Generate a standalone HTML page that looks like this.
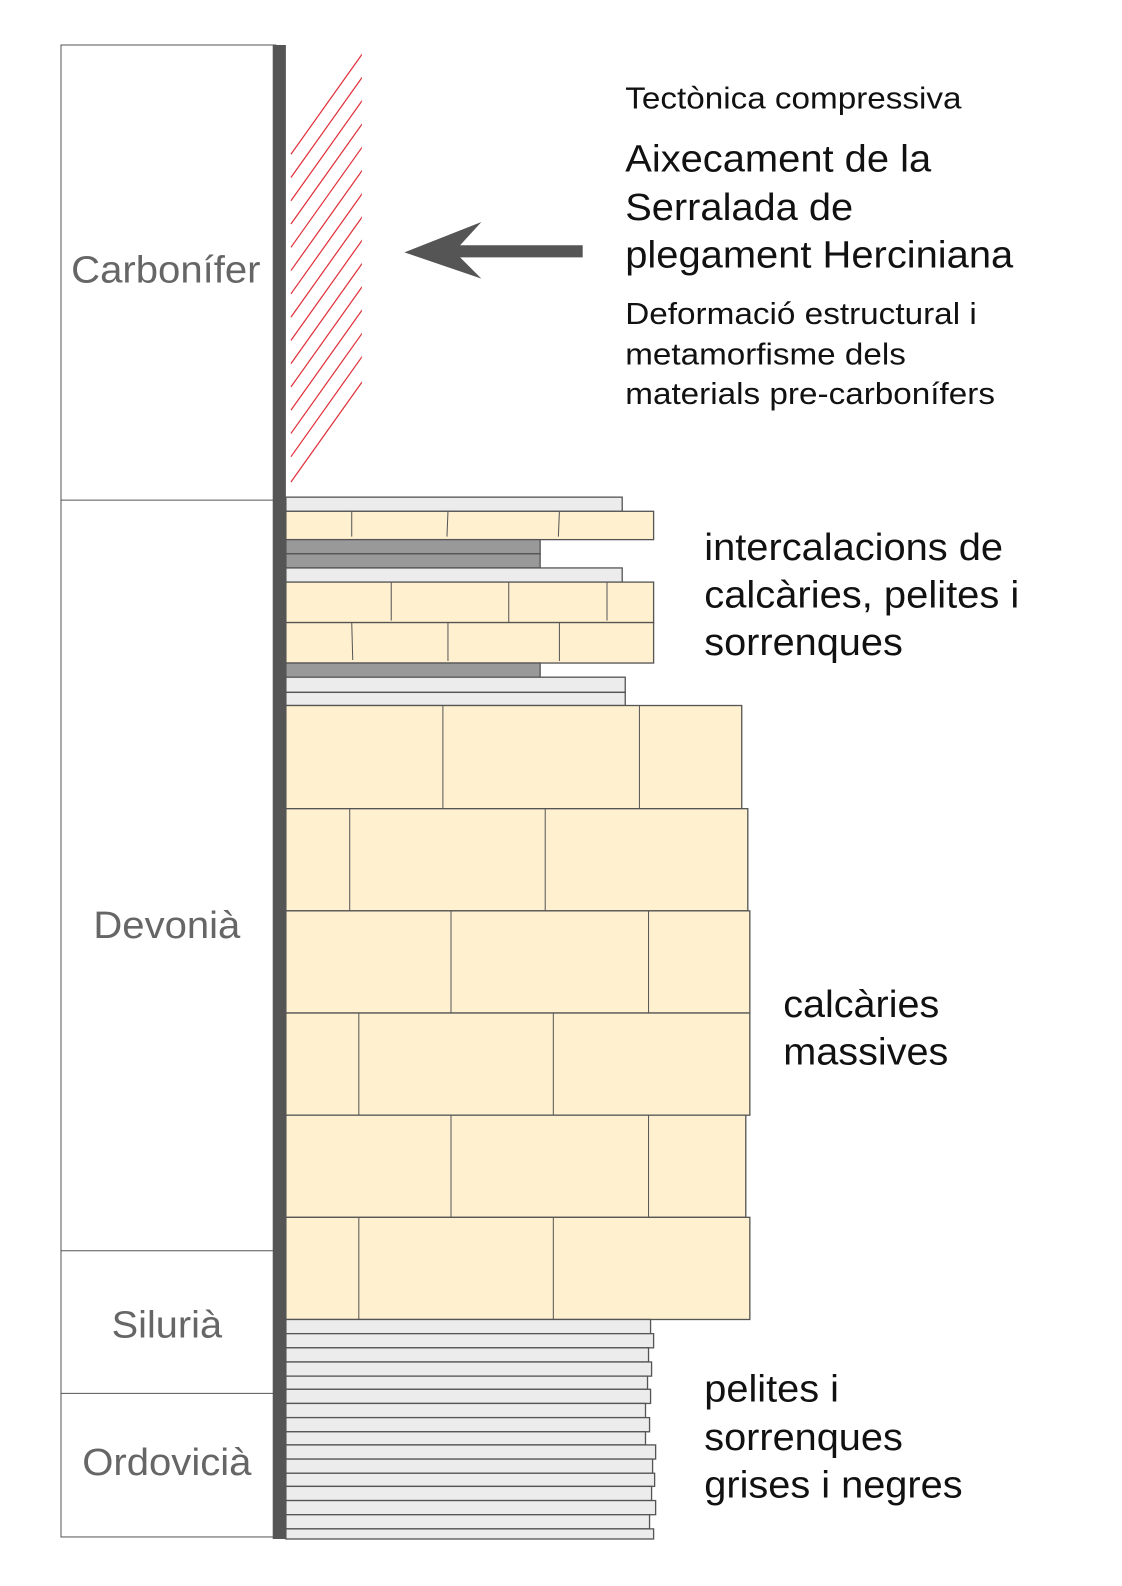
<!DOCTYPE html>
<html><head><meta charset="utf-8"><style>
html,body{margin:0;padding:0;background:#fff;overflow:hidden;width:1122px;height:1586px}
svg{display:block}
svg text{font-family:"Liberation Sans",Arial,sans-serif}
</style></head><body>
<svg width="1122" height="1586" viewBox="0 0 1122 1586" xmlns="http://www.w3.org/2000/svg">
<defs><clipPath id="c"><rect x="285" y="50" width="73" height="430"/></clipPath></defs>
<g transform="translate(61,45) scale(1.013,1.0115) translate(-61,-45)">
<rect x="61" y="45" width="212" height="1475" fill="#fff" stroke="#555" stroke-width="1"/>
<line x1="61" y1="495" x2="273" y2="495" stroke="#555"/>
<line x1="61" y1="1237" x2="273" y2="1237" stroke="#555"/>
<line x1="61" y1="1378" x2="273" y2="1378" stroke="#555"/>
<g fill="#666" font-size="38">
<text x="71" y="280" textLength="187" lengthAdjust="spacingAndGlyphs">Carbonífer</text>
<text x="93" y="928" textLength="145" lengthAdjust="spacingAndGlyphs">Devonià</text>
<text x="111" y="1323" textLength="109" lengthAdjust="spacingAndGlyphs">Silurià</text>
<text x="82" y="1459" textLength="167" lengthAdjust="spacingAndGlyphs">Ordovicià</text>
</g>
<g clip-path="url(#c)" stroke="#e0303a" stroke-width="1.2">
<line x1="288" y1="153" x2="359" y2="53"/>
<line x1="288" y1="176" x2="359" y2="76"/>
<line x1="288" y1="199" x2="359" y2="99"/>
<line x1="288" y1="222" x2="359" y2="122"/>
<line x1="288" y1="245" x2="359" y2="145"/>
<line x1="288" y1="268" x2="359" y2="168"/>
<line x1="288" y1="291" x2="359" y2="191"/>
<line x1="288" y1="314" x2="359" y2="214"/>
<line x1="288" y1="337" x2="359" y2="237"/>
<line x1="288" y1="360" x2="359" y2="260"/>
<line x1="288" y1="383" x2="359" y2="283"/>
<line x1="288" y1="406" x2="359" y2="306"/>
<line x1="288" y1="429" x2="359" y2="329"/>
<line x1="288" y1="452" x2="359" y2="352"/>
<line x1="288" y1="477" x2="359" y2="377"/>
</g>
<polygon points="400,250 476,220 455,243 576,243 576,255 455,255 476,276" fill="#555"/>
<g fill="#111">
<text x="618" y="108" font-size="30" textLength="332" lengthAdjust="spacingAndGlyphs">Tectònica compressiva</text>
<text x="618" y="170" font-size="38" textLength="302" lengthAdjust="spacingAndGlyphs">Aixecament de la</text>
<text x="618" y="218" font-size="38" textLength="225" lengthAdjust="spacingAndGlyphs">Serralada de</text>
<text x="618" y="265" font-size="38" textLength="383" lengthAdjust="spacingAndGlyphs">plegament Herciniana</text>
<text x="618" y="321" font-size="30" textLength="347" lengthAdjust="spacingAndGlyphs">Deformació estructural i</text>
<text x="618" y="361" font-size="30" textLength="277" lengthAdjust="spacingAndGlyphs">metamorfisme dels</text>
<text x="618" y="400" font-size="30" textLength="365" lengthAdjust="spacingAndGlyphs">materials pre-carbonífers</text>
<text x="696" y="554" font-size="38" textLength="295" lengthAdjust="spacingAndGlyphs">intercalacions de</text>
<text x="696" y="601" font-size="38" textLength="311" lengthAdjust="spacingAndGlyphs">calcàries, pelites i</text>
<text x="696" y="648" font-size="38" textLength="196" lengthAdjust="spacingAndGlyphs">sorrenques</text>
<text x="774" y="1006" font-size="38" textLength="154" lengthAdjust="spacingAndGlyphs">calcàries</text>
<text x="774" y="1053" font-size="38" textLength="163" lengthAdjust="spacingAndGlyphs">massives</text>
<text x="696" y="1386" font-size="38" textLength="133" lengthAdjust="spacingAndGlyphs">pelites i</text>
<text x="696" y="1434" font-size="38" textLength="196" lengthAdjust="spacingAndGlyphs">sorrenques</text>
<text x="696" y="1481" font-size="38" textLength="255" lengthAdjust="spacingAndGlyphs">grises i negres</text>
</g>
<g stroke="#555" stroke-width="1.3">
<rect x="283" y="492" width="332" height="14" fill="#ececec"/>
<rect x="283" y="506" width="363" height="28" fill="#fff0cf"/>
<rect x="283" y="534" width="251" height="14" fill="#999"/>
<rect x="283" y="548" width="251" height="14" fill="#999"/>
<rect x="283" y="562" width="332" height="14" fill="#ececec"/>
<rect x="283" y="576" width="363" height="40" fill="#fff0cf"/>
<rect x="283" y="616" width="363" height="40" fill="#fff0cf"/>
<rect x="283" y="656" width="251" height="14" fill="#999"/>
<rect x="283" y="670" width="335" height="15" fill="#ececec"/>
<rect x="283" y="685" width="335" height="13" fill="#ececec"/>
<rect x="283" y="698" width="450" height="102" fill="#fff0cf"/>
<rect x="283" y="800" width="456" height="101" fill="#fff0cf"/>
<rect x="283" y="901" width="458" height="101" fill="#fff0cf"/>
<rect x="283" y="1002" width="458" height="101" fill="#fff0cf"/>
<rect x="283" y="1103" width="454" height="101" fill="#fff0cf"/>
<rect x="283" y="1204" width="458" height="101" fill="#fff0cf"/>
</g>
<g stroke="#555" stroke-width="1">
<line x1="348" y1="506" x2="348" y2="531"/><line x1="443" y1="506" x2="442" y2="531"/><line x1="553" y1="506" x2="552" y2="531"/>
<line x1="387" y1="576" x2="387" y2="614"/><line x1="503" y1="576" x2="503" y2="616"/><line x1="600" y1="576" x2="600" y2="614"/>
<line x1="348" y1="616" x2="349" y2="653"/><line x1="443" y1="616" x2="443" y2="654"/><line x1="553" y1="616" x2="553" y2="654"/>
<line x1="438" y1="698" x2="438" y2="800"/><line x1="632" y1="698" x2="632" y2="800"/>
<line x1="346" y1="800" x2="346" y2="901"/><line x1="539" y1="800" x2="539" y2="901"/>
<line x1="446" y1="901" x2="446" y2="1002"/><line x1="641" y1="901" x2="641" y2="1002"/>
<line x1="355" y1="1002" x2="355" y2="1103"/><line x1="547" y1="1002" x2="547" y2="1103"/>
<line x1="446" y1="1103" x2="446" y2="1204"/><line x1="641" y1="1103" x2="641" y2="1204"/>
<line x1="355" y1="1204" x2="355" y2="1305"/><line x1="547" y1="1204" x2="547" y2="1305"/>
</g>
<g stroke="#555" stroke-width="1.3" fill="#ececec">
<rect x="283" y="1305" width="360" height="14"/>
<rect x="283" y="1319" width="363" height="14"/>
<rect x="283" y="1333" width="358" height="14"/>
<rect x="283" y="1347" width="361" height="14"/>
<rect x="283" y="1361" width="357" height="13"/>
<rect x="283" y="1374" width="360" height="14"/>
<rect x="283" y="1388" width="355" height="14"/>
<rect x="283" y="1402" width="359" height="14"/>
<rect x="283" y="1416" width="355" height="13"/>
<rect x="283" y="1429" width="365" height="14"/>
<rect x="283" y="1443" width="362" height="14"/>
<rect x="283" y="1457" width="364" height="13"/>
<rect x="283" y="1470" width="361" height="14"/>
<rect x="283" y="1484" width="365" height="14"/>
<rect x="283" y="1498" width="359" height="14"/>
<rect x="283" y="1512" width="363" height="10"/>
</g>
<rect x="270" y="45" width="13" height="1477" fill="#555"/>
</g>
</svg>
</body></html>
